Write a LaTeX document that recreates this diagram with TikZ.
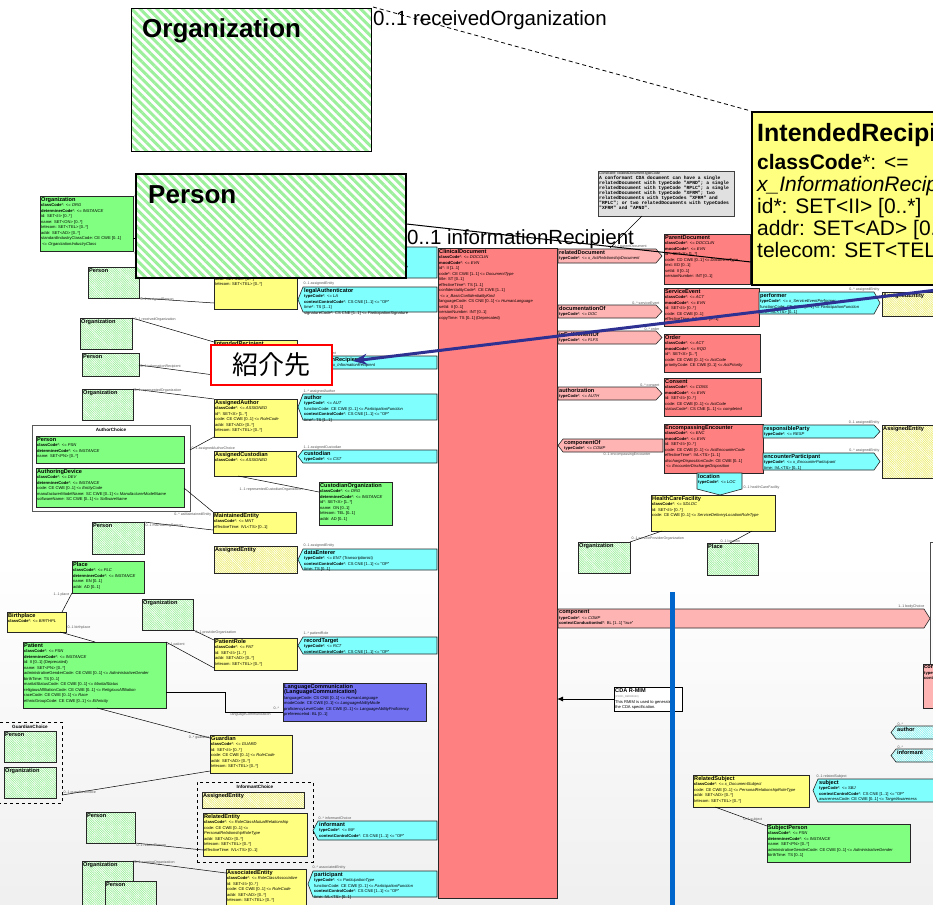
\documentclass[tikz,border=0pt]{standalone}
\usepackage{fontspec}
\setmainfont{Liberation Sans}
\newfontfamily\cjk{Noto Sans CJK JP}
\newfontfamily\monof{Liberation Mono}
\usetikzlibrary{patterns.meta,arrows.meta,calc}
\definecolor{actred}{HTML}{FF8080}
\definecolor{relp}{HTML}{FFB4B4}
\definecolor{partc}{HTML}{80FFFF}
\definecolor{roley}{HTML}{FFFF80}
\definecolor{entg}{HTML}{80FF80}
\definecolor{hgreen}{HTML}{9CF09C}
\definecolor{hyel}{HTML}{EEEE70}
\definecolor{hcyan}{HTML}{80F0F0}
\definecolor{langb}{HTML}{7070F0}
\definecolor{noteg}{HTML}{E0E0E0}
\definecolor{bigblue}{HTML}{2E3192}
\definecolor{vblue}{HTML}{0066CC}
\definecolor{lblg}{HTML}{555555}
\newcommand\Kb[1]{\textbf{#1}}
\newcommand\Ki[1]{\textit{#1}}
\newcommand\Kt[1]{{\fontsize{5.6}{6}\selectfont\textbf{#1}}}
\newcommand\ebox[7]{%
 \pgfmathsetmacro\Kw{#4-#2}\pgfmathsetmacro\Kh{#5-#3}%
 \node[#6, minimum width=\Kw pt, minimum height=\Kh pt, anchor=north west, inner sep=0pt, outer sep=0pt] (#1) at (#2,#3) {};%
 \node[t] (#1t) at (#1.north west) {#7};}
\newcommand\lpart[7]{%
 \pgfmathsetmacro\Km{(#3+#5)/2}\pgfmathsetmacro\Ka{#2+5}%
 \draw[#6] (\Ka,#3) -- (#4,#3) -- (#4,#5) -- (\Ka,#5) -- (#2,\Km) -- cycle;%
 \coordinate (#1) at (#2,\Km);%
 \node[t] (#1t) at (\Ka,#3) {#7};}
\newcommand\rpart[7]{%
 \pgfmathsetmacro\Km{(#3+#5)/2}\pgfmathsetmacro\Ka{#4-6}%
 \draw[#6] (#2,#3) -- (\Ka,#3) -- (#4,\Km) -- (\Ka,#5) -- (#2,#5) -- cycle;%
 \coordinate (#1) at (#4,\Km);%
 \node[t] (#1t) at (#2,#3) {#7};}
\tikzset{
 t/.style={font=\fontsize{4.1}{5.5}\selectfont, align=left, inner sep=1pt, anchor=north west},
 lab/.style={font=\fontsize{3.6}{4.3}\selectfont, text=lblg, inner sep=0.5pt},
 bx/.style={draw=black!85, line width=0.6pt},
 act/.style={bx, fill=actred},
 rel/.style={bx, fill=relp},
 part/.style={bx, fill=partc},
 role/.style={bx, fill=roley},
 ent/.style={bx, fill=entg},
 lang/.style={bx, fill=langb},
 notebox/.style={draw=black!75, line width=0.6pt, fill=noteg},
 wnote/.style={draw=black, line width=0.6pt, fill=white},
 choice/.style={draw=black!65, line width=1pt, fill=white},
 dchoice/.style={draw=black, line width=0.6pt, dashed},
 hent/.style={bx, preaction={fill=white}, pattern={Lines[angle=-45,distance=1.6pt,line width=0.7pt]}, pattern color=hgreen},
 hrole/.style={bx, preaction={fill=white}, pattern={Lines[angle=-45,distance=1.6pt,line width=0.7pt]}, pattern color=hyel},
 hpart/.style={bx, preaction={fill=white}, pattern={Lines[angle=-45,distance=1.6pt,line width=0.7pt]}, pattern color=hcyan},
 bigh/.style={draw=black, line width=1.5pt, preaction={fill=white}, pattern={Lines[angle=-45,distance=6pt,line width=3pt]}, pattern color=hgreen},
 conn/.style={draw=black, line width=0.5pt},
 ctitle/.style={font=\fontsize{4.6}{5}\selectfont\bfseries, inner sep=0.5pt, anchor=north},
}
\begin{document}
\begin{tikzpicture}[x=1pt,y=-1pt]
\useasboundingbox (0,0) rectangle (933,904);
\clip (0,0) rectangle (933,904);
\fill[white] (0,0) rectangle (933,904);
\shade[top color=white, bottom color=black!6] (0,560) rectangle (933,904);

% ---------- central act ----------
\ebox{cd}{438}{248}{557}{898}{act}{\Kt{ClinicalDocument}\\ \Kb{classCode}*: <= \Ki{DOCCLIN}\\ \Kb{moodCode}*: <= \Ki{EVN}\\ id*: II [1..1]\\ code*: CE CWE [1..1] <= \Ki{DocumentType}\\ title: ST [0..1]\\ effectiveTime*: TS [1..1]\\ confidentialityCode*: CE CWE [1..1]\\ \ <= \Ki{x\_BasicConfidentialityKind}\\ languageCode: CS CNE [0..1] <= \Ki{HumanLanguage}\\ setId: II [0..1]\\ versionNumber: INT [0..1]\\ copyTime: TS [0..1] (Deprecated)}

% ---------- left participations ----------
\lpart{authn}{298}{247}{437}{278}{part}{\Kt{authenticator}\\ \Kb{typeCode}*: <= \Ki{AUTHEN}\\ time*: TS [1..1]\\ signatureCode*: CS CNE [1..1] <= \Ki{ParticipationSignature}}
\lpart{legal}{298}{287}{437}{312}{part}{\Kt{legalAuthenticator}\\ \Kb{typeCode}*: <= \Ki{LA}\\ \Kb{contextControlCode}*: CS CNE [1..1] <= "OP"\\ time*: TS [1..1]\\ signatureCode*: CS CNE [1..1] <= \Ki{ParticipationSignature}}
\lpart{infr}{298}{356}{437}{369}{part}{\Kt{informationRecipient}\\ \Kb{typeCode}*: <= \Ki{x\_InformationRecipient}}
\lpart{auth}{298}{394}{437}{420}{part}{\Kt{author}\\ \Kb{typeCode}*: <= \Ki{AUT}\\ functionCode: CE CWE [0..1] <= \Ki{ParticipationFunction}\\ \Kb{contextControlCode}*: CS CNE [1..1] <= "OP"\\ time*: TS [1..1]}
\lpart{cust}{298}{450}{437}{463}{part}{\Kt{custodian}\\ \Kb{typeCode}*: <= \Ki{CST}}
\lpart{dent}{298}{549}{437}{570}{part}{\Kt{dataEnterer}\\ \Kb{typeCode}*: <= \Ki{ENT} (Transcriptionist)\\ \Kb{contextControlCode}*: CS CNE [1..1] <= "OP"\\ time: TS [0..1]}
\lpart{rect}{298}{637}{437}{654}{part}{\Kt{recordTarget}\\ \Kb{typeCode}*: <= \Ki{RCT}\\ \Kb{contextControlCode}*: CS CNE [1..1] <= "OP"}
\lpart{inf}{313}{821}{437}{840}{part}{\Kt{informant}\\ \Kb{typeCode}*: <= \Ki{INF}\\ \Kb{contextControlCode}*: CS CNE [1..1] <= "OP"}
\lpart{ptcp}{308}{871}{437}{897}{part}{\Kt{participant}\\ \Kb{typeCode}*: <= \Ki{ParticipationType}\\ functionCode: CE CWE [0..1] <= \Ki{ParticipationFunction}\\ \Kb{contextControlCode}*: CS CNE [1..1] <= "OP"\\ time: IVL<TS> [0..1]}

% ---------- right act relationships ----------
\rpart{rdoc}{558}{249}{662}{263}{rel}{\Kt{relatedDocument}\\ \Kb{typeCode}*: <= \Ki{x\_ActRelationshipDocument}}
\rpart{docof}{558}{305}{662}{318}{rel}{\Kt{documentationOf}\\ \Kb{typeCode}*: <= \Ki{DOC}}
\rpart{inful}{558}{331}{662}{344}{rel}{\Kt{inFulfillmentOf}\\ \Kb{typeCode}*: <= \Ki{FLFS}}
\rpart{authz}{558}{387}{662}{400}{rel}{\Kt{authorization}\\ \Kb{typeCode}*: <= \Ki{AUTH}}
\lpart{compof}{558}{439}{663}{452}{rel}{\Kt{componentOf}\\ \Kb{typeCode}*: <= \Ki{COMP}}
\rpart{comp}{558}{609}{930}{628}{rel}{\Kt{component}\\ \Kb{typeCode}*: <= \Ki{COMP}\\ \Kb{contextConductionInd}*: BL [1..1] "true"}

% ---------- right acts ----------
\ebox{pdoc}{664}{234}{750}{284}{act}{\Kt{ParentDocument}\\ \Kb{classCode}*: <= \Ki{DOCCLIN}\\ \Kb{moodCode}*: <= \Ki{EVN}\\ id*: SET<II> [1..*]\\ code: CD CWE [0..1] <= \Ki{DocumentType}\\ text: ED [0..1]\\ setId: II [0..1]\\ versionNumber: INT [0..1]}
\ebox{sev}{664}{288}{759}{326}{act}{\Kt{ServiceEvent}\\ \Kb{classCode}*: <= \Ki{ACT}\\ \Kb{moodCode}*: <= \Ki{EVN}\\ id: SET<II> [0..*]\\ code: CE CWE [0..1]\\ effectiveTime: IVL<TS> [0..1]}
\ebox{ord}{664}{334}{760}{372}{act}{\Kt{Order}\\ \Kb{classCode}*: <= \Ki{ACT}\\ \Kb{moodCode}*: <= \Ki{RQO}\\ id*: SET<II> [1..*]\\ code: CE CWE [0..1] <= \Ki{ActCode}\\ priorityCode: CE CWE [0..1] <= \Ki{ActPriority}}
\ebox{cons}{664}{378}{761}{416}{act}{\Kt{Consent}\\ \Kb{classCode}*: <= \Ki{CONS}\\ \Kb{moodCode}*: <= \Ki{EVN}\\ id: SET<II> [0..*]\\ code: CE CWE [0..1] <= \Ki{ActCode}\\ statusCode*: CS CNE [1..1] <= \Ki{completed}}
\ebox{enc}{664}{424}{763}{473}{act}{\Kt{EncompassingEncounter}\\ \Kb{classCode}*: <= \Ki{ENC}\\ \Kb{moodCode}*: <= \Ki{EVN}\\ id: SET<II> [0..*]\\ code: CE CWE [0..1] <= \Ki{ActEncounterCode}\\ effectiveTime*: IVL<TS> [1..1]\\ \Ki{dischargeDispositionCode}: CE CWE [0..1]\\ \ <= \Ki{EncounterDischargeDisposition}}
\draw[part] (697,473) -- (742,473) -- (742,489) -- (720,495) -- (697,489) -- cycle;
\coordinate (loc) at (720,495);
\node[t] (loct) at (697,473) {\Kt{location}\\ \Kb{typeCode}*: <= \Ki{LOC}};
\ebox{hcf}{651}{495}{775}{531}{role}{\Kt{HealthCareFacility}\\ \Kb{classCode}*: <= \Ki{SDLOC}\\ id: SET<II> [0..*]\\ code: CE CWE [0..1] <= \Ki{ServiceDeliveryLocationRoleType}}
\rpart{perf}{759}{292}{880}{314}{part}{\Kt{performer}\\ \Kb{typeCode}*: <= \Ki{x\_ServiceEventPerformer}\\ functionCode: CE CWE [0..1] <= \Ki{ParticipationFunction}\\ time: IVL<TS> [0..1]}
\ebox{aeR1}{882}{292}{945}{316}{hrole}{\Kt{AssignedEntity}}
\rpart{resp}{763}{425}{880}{438}{part}{\Kt{responsibleParty}\\ \Kb{typeCode}*: <= \Ki{RESP}}
\rpart{encp}{763}{453}{880}{470}{part}{\Kt{encounterParticipant}\\ \Kb{typeCode}*: <= \Ki{x\_EncounterParticipant}\\ time: IVL<TS> [0..1]}
\ebox{aeR2}{882}{425}{945}{478}{hrole}{\Kt{AssignedEntity}}
\ebox{orgH}{578}{542}{630}{573}{hent}{\Kt{Organization}}
\ebox{plcH}{707}{543}{758}{575}{hent}{\Kt{Place}}

% body choice (partly outside)
\draw[draw=black!70, line width=0.8pt] (945,542) -- (930,542) -- (930,664);
\ebox{compR}{923}{664}{950}{708}{rel}{\Kt{component}\\ \Kb{typeCode}*\\ \Kb{contextConductionInd}*}
\lpart{authR}{891}{726}{945}{739}{hpart}{\Kt{author}}
\lpart{infR}{891}{749}{945}{762}{hpart}{\Kt{informant}}
\lpart{subj}{813}{779}{945}{802}{part}{\Kt{subject}\\ \Kb{typeCode}*: <= \Ki{SBJ}\\ \Kb{contextControlCode}*: CS CNE [1..1] <= "OP"\\ awarenessCode: CE CWE [0..1] <= \Ki{TargetAwareness}}
\ebox{rsub}{693}{775}{809}{807}{role}{\Kt{RelatedSubject}\\ \Kb{classCode}*: <= \Ki{x\_DocumentSubject}\\ code: CE CWE [0..1] <= \Ki{PersonalRelationshipRoleType}\\ addr: SET<AD> [0..*]\\ telecom: SET<TEL> [0..*]}
\ebox{sper}{767}{824}{910}{862}{ent}{\Kt{SubjectPerson}\\ \Kb{classCode}*: <= \Ki{PSN}\\ \Kb{determinerCode}*: <= \Ki{INSTANCE}\\ name: SET<PN> [0..*]\\ administrativeGenderCode: CE CWE [0..1] <= \Ki{AdministrativeGender}\\ birthTime: TS [0..1]}

% notes
\ebox{cnote}{598}{171}{734}{216}{notebox}{}
\node[anchor=north west, inner sep=1pt, align=left, font=\monof\bfseries\fontsize{4.7}{5.0}\selectfont] (cnotet) at (cnote.north west) {{\rmfamily\mdseries\itshape\fontsize{3.5}{4}\selectfont Constraint: relatedDocument.typeCode}\\ A conformant CDA document can have a single\\ relatedDocument with typeCode "APND"; a single\\ relatedDocument with typeCode "RPLC"; a single\\ relatedDocument with typeCode "XFRM"; two\\ relatedDocuments with typeCodes "XFRM" and\\ "RPLC"; or two relatedDocuments with typeCodes\\ "XFRM" and "APND".};
\ebox{rnote}{614}{687}{682}{711}{wnote}{\Kt{CDA R-MIM}\\ {\fontsize{2.6}{3}\selectfont\color{gray}(POCD\_RM000040)}\\ This RMIM is used to generate\\ the CDA specification.}
\draw[line width=0.9pt, -{Latex[length=6pt,width=5pt]}] (rnote.west) -- (cd.east |- rnote.west);
\coordinate (cnend) at (610,248);
\draw[conn] (cnote.south -| 642,0) -- (cnend);

% ---------- left roles ----------
\ebox{ae1}{214}{253}{297}{309}{role}{\Kt{AssignedEntity}\\ \Kb{classCode}*: <= \Ki{ASSIGNED}\\ id*: SET<II> [1..*]\\ code: CE CWE [0..1] <= \Ki{RoleCode}\\ addr: SET<AD> [0..*]\\ telecom: SET<TEL> [0..*]}
\ebox{irs}{214}{340}{297}{384}{role}{\Kt{IntendedRecipient}\\ \Kb{classCode}*: <= \Ki{x\_InformationRecipientRole}}
\ebox{aa}{214}{399}{297}{437}{role}{\Kt{AssignedAuthor}\\ \Kb{classCode}*: <= \Ki{ASSIGNED}\\ id*: SET<II> [1..*]\\ code: CE CWE [0..1] <= \Ki{RoleCode}\\ addr: SET<AD> [0..*]\\ telecom: SET<TEL> [0..*]}
\ebox{ac}{214}{451}{296}{476}{role}{\Kt{AssignedCustodian}\\ \Kb{classCode}*: <= \Ki{ASSIGNED}}
\ebox{me}{213}{512}{296}{533}{role}{\Kt{MaintainedEntity}\\ \Kb{classCode}*: <= \Ki{MNT}\\ effectiveTime: IVL<TS> [0..1]}
\ebox{aeh}{214}{546}{297}{573}{hrole}{\Kt{AssignedEntity}}
\ebox{pr}{214}{638}{297}{670}{role}{\Kt{PatientRole}\\ \Kb{classCode}*: <= \Ki{PAT}\\ id: SET<II> [1..*]\\ addr: SET<AD> [0..*]\\ telecom: SET<TEL> [0..*]}
\ebox{gd}{210}{735}{292}{773}{role}{\Kt{Guardian}\\ \Kb{classCode}*: <= \Ki{GUARD}\\ id: SET<II> [0..*]\\ code: CE CWE [0..1] <= \Ki{RoleCode}\\ addr: SET<AD> [0..*]\\ telecom: SET<TEL> [0..*]}
\ebox{ich}{197}{782}{313}{862}{dchoice}{}
\node[ctitle] (icht) at ($(ich.north)+(0,2.5)$) {InformantChoice};
\ebox{aei}{202}{792}{304}{808}{hrole}{\Kt{AssignedEntity}}
\ebox{ren}{203}{813}{307}{856}{role}{\Kt{RelatedEntity}\\ \Kb{classCode}*: <= \Ki{RoleClassMutualRelationship}\\ code: CE CWE [0..1] <=\\ \Ki{PersonalRelationshipRoleType}\\ addr: SET<AD> [0..*]\\ telecom: SET<TEL> [0..*]\\ effectiveTime: IVL<TS> [0..1]}
\ebox{asen}{226}{869}{306}{915}{role}{\Kt{AssociatedEntity}\\ \Kb{classCode}*: <= \Ki{RoleClassAssociative}\\ id: SET<II> [0..*]\\ code: CE CWE [0..1] <= \Ki{RoleCode}\\ addr: SET<AD> [0..*]\\ telecom: SET<TEL> [0..*]}
\ebox{bp}{7}{612}{66}{632}{role}{\Kt{Birthplace}\\ \Kb{classCode}*: <= \Ki{BIRTHPL}}

% ---------- entities ----------
\ebox{orgTL}{40}{196}{133}{251}{ent}{\Kt{Organization}\\ \Kb{classCode}*: <= \Ki{ORG}\\ \Kb{determinerCode}*: <= \Ki{INSTANCE}\\ id: SET<II> [0..*]\\ name: SET<ON> [0..*]\\ telecom: SET<TEL> [0..*]\\ addr: SET<AD> [0..*]\\ standardIndustryClassCode: CE CWE [0..1]\\ \ <= \Ki{OrganizationIndustryClass}}
\ebox{p1}{88}{267}{139}{298}{hent}{\Kt{Person}}
\ebox{o2}{80}{318}{132}{349}{hent}{\Kt{Organization}}
\ebox{p3}{82}{353}{139}{376}{hent}{\Kt{Person}}
\ebox{o4}{82}{389}{133}{420}{hent}{\Kt{Organization}}
\ebox{ach}{32}{425}{190}{511}{choice}{}
\node[ctitle] (acht) at ($(ach.north)+(0,2.5)$) {AuthorChoice};
\ebox{pch}{36}{436}{184}{463}{ent}{\Kt{Person}\\ \Kb{classCode}*: <= \Ki{PSN}\\ \Kb{determinerCode}*: <= \Ki{INSTANCE}\\ name: SET<PN> [0..*]}
\ebox{adev}{36}{468}{184}{507}{ent}{\Kt{AuthoringDevice}\\ \Kb{classCode}*: <= \Ki{DEV}\\ \Kb{determinerCode}*: <= \Ki{INSTANCE}\\ code: CE CWE [0..1] <= \Ki{EntityCode}\\ manufacturerModelName: SC CWE [0..1] <= \Ki{ManufacturerModelName}\\ softwareName: SC CWE [0..1] <= \Ki{SoftwareName}}
\ebox{p5}{92}{522}{144}{554}{hent}{\Kt{Person}}
\ebox{corg}{319}{482}{392}{525}{ent}{\Kt{CustodianOrganization}\\ \Kb{classCode}*: <= \Ki{ORG}\\ \Kb{determinerCode}*: <= \Ki{INSTANCE}\\ id*: SET<II> [1..*]\\ name: ON [0..1]\\ telecom: TEL [0..1]\\ addr: AD [0..1]}
\ebox{plc}{72}{561}{144}{593}{ent}{\Kt{Place}\\ \Kb{classCode}*: <= \Ki{PLC}\\ \Kb{determinerCode}*: <= \Ki{INSTANCE}\\ name: EN [0..1]\\ addr: AD [0..1]}
\ebox{o6}{142}{599}{193}{630}{hent}{\Kt{Organization}}
\ebox{pat}{23}{642}{166}{708}{ent}{\Kt{Patient}\\ \Kb{classCode}*: <= \Ki{PSN}\\ \Kb{determinerCode}*: <= \Ki{INSTANCE}\\ id: II [0..1] (Deprecated)\\ name: SET<PN> [0..*]\\ administrativeGenderCode: CE CWE [0..1] <= \Ki{AdministrativeGender}\\ birthTime: TS [0..1]\\ maritalStatusCode: CE CWE [0..1] <= \Ki{MaritalStatus}\\ religiousAffiliationCode: CE CWE [0..1] <= \Ki{ReligiousAffiliation}\\ raceCode: CE CWE [0..1] <= \Ki{Race}\\ ethnicGroupCode: CE CWE [0..1] <= \Ki{Ethnicity}}
\ebox{lc}{283}{683}{426}{721}{lang}{\Kt{LanguageCommunication}\\ \Kt{(LanguageCommunication)}\\ languageCode: CS CNE [0..1] <= \Ki{HumanLanguage}\\ modeCode: CE CWE [0..1] <= \Ki{LanguageAbilityMode}\\ proficiencyLevelCode: CE CWE [0..1] <= \Ki{LanguageAbilityProficiency}\\ preferenceInd: BL [0..1]}
\ebox{gch}{-2}{722}{62}{803}{dchoice}{}
\node[ctitle] (gcht) at ($(gch.north)+(0,2.5)$) {GuardianChoice};
\ebox{pg}{4}{731}{56}{762}{hent}{\Kt{Person}}
\ebox{og}{4}{767}{56}{798}{hent}{\Kt{Organization}}
\ebox{p7}{86}{812}{135}{843}{hent}{\Kt{Person}}
\ebox{o8}{82}{861}{133}{915}{hent}{\Kt{Organization}}
\ebox{p9}{105}{881}{156}{915}{hent}{\Kt{Person}}

% ---------- connectors ----------
\draw[conn] (orgTL.east |- 0,238) -- (150,238);
\draw[conn] (p1.south east) -- (ae1.west |- 0,303);
\draw[conn] (o2.north east) -- (irs.west |- 0,342);
\draw[conn] (p3.east |- 0,365) -- (irs.west |- 0,375);
\draw[conn] (o4.north east) -- (aa.north west);
\draw[conn] (ach.east |- 0,450) -- (aa.south west);
\draw[conn] (adev.east |- 0,488) -- (me.north west);
\draw[conn] (p5.north east) -- (me.west |- 0,530);
\draw[conn] (ac.south -| 238,0) -- (corg.west |- 0,492);
\draw[conn] (plc.south west) -- (bp.north -| 62,0);
\draw[conn] (bp.south -| 60,0) -- (pat.north -| 95,0);
\draw[conn] (pat.north east) -- (pr.west |- 0,668);
\draw[conn] (o6.south east) -- (pr.west |- 0,640);
\draw[conn] (pat.east |- 0,692) -- (225,692) -- (225,712) -- (lc.west |- 0,712);
\draw[conn] (pat.south -| 97,0) -- (gd.west |- 0,738);
\draw[conn] (gch.east |- 0,795) -- (gd.west |- 0,771);
\draw[conn] (p7.south east) -- (ren.west |- 0,850);
\draw[conn] (o8.north east) -- (asen.west |- 0,873);
\draw[conn] (hcf.south -| 662,0) -- (orgH.north east);
\draw[conn] (hcf.south -| 752,0) -- (plcH.north -| 730,0);
\draw[conn] (rsub.south -| 715,0) -- (sper.west |- 0,826);

% ---------- multiplicity labels ----------
\node[lab, anchor=south west] (m0a) at (134,198) {0..1};
\node[lab, anchor=north west] (m0b) at (134,251) {0..1};
\node[lab, anchor=west] (m1) at (140,300) {0..1 assignedPerson};
\node[lab, anchor=west] (m2) at (134,320) {0..1 receivedOrganization};
\node[lab, anchor=west] (m3) at (140,367) {0..1 informationRecipient};
\node[lab, anchor=west] (m4) at (134,391) {0..1 representedOrganization};
\node[lab, anchor=west] (m5) at (191,449) {0..1 assignedAuthorChoice};
\node[lab, anchor=east] (m6) at (212,515) {0..* asMaintainedEntity};
\node[lab, anchor=west] (m7) at (145,526) {0..1 maintainingPerson};
\node[lab, anchor=west] (m8) at (239,490) {1..1 representedCustodianOrganization};
\node[lab, anchor=east] (m9) at (70,595) {1..1 place};
\node[lab, anchor=west] (m10) at (67,628) {0..1 birthplace};
\node[lab, anchor=west] (m11) at (166,645) {0..1 patient};
\node[lab, anchor=west] (m12) at (195,633) {0..1 providerOrganization};
\node[lab, anchor=west] (m13) at (230,715) {languageCommunication};
\node[lab, anchor=west] (m13b) at (273,708) {0..*};
\node[lab, anchor=east] (m14) at (210,738) {0..* guardian};
\node[lab, anchor=west] (m15) at (63,793) {0..1 guardianChoice};
\node[lab, anchor=west] (m16) at (136,845) {0..1 relatedPerson};
\node[lab, anchor=west] (m17) at (134,863) {0..1 scopingOrganization};
\node[lab, anchor=south west] (q1) at (303,286) {0..1 assignedEntity};
\node[lab, anchor=south west] (q2) at (300,356) {0..* intendedRecipient};
\node[lab, anchor=south west] (q3) at (303,394) {1..* assignedAuthor};
\node[lab, anchor=south west] (q4) at (303,450) {1..1 assignedCustodian};
\node[lab, anchor=south west] (q5) at (303,548) {0..1 assignedEntity};
\node[lab, anchor=south west] (q6) at (303,636) {1..* patientRole};
\node[lab, anchor=south west] (q7) at (318,820) {0..* informantChoice};
\node[lab, anchor=south west] (q8) at (312,870) {0..* associatedEntity};
\node[lab, anchor=south west] (r1) at (613,249) {0..* parentDocument};
\node[lab, anchor=south east] (r2) at (660,305) {0..* serviceEvent};
\node[lab, anchor=south east] (r3) at (660,331) {0..* order};
\node[lab, anchor=south east] (r4) at (660,387) {0..* consent};
\node[lab, anchor=north west] (r5) at (603,452) {0..1 encompassingEncounter};
\node[lab, anchor=west] (r6) at (743,488) {0..1 healthCareFacility};
\node[lab, anchor=west] (r7) at (631,539) {0..1 serviceProviderOrganization};
\node[lab, anchor=west] (r8) at (720,541) {0..1 location};
\node[lab, anchor=south east] (r9) at (880,292) {0..* assignedEntity};
\node[lab, anchor=south east] (r10) at (880,425) {0..1 assignedEntity};
\node[lab, anchor=south east] (r11) at (880,453) {0..* assignedEntity};
\node[lab, anchor=south east] (r12) at (925,609) {1..1 bodyChoice};
\node[lab, anchor=south west] (r13) at (897,726) {0..*};
\node[lab, anchor=south west] (r14) at (897,749) {0..*};
\node[lab, anchor=south west] (r15) at (816,779) {0..1 relatedSubject};
\node[lab, anchor=west] (r16) at (743,820) {0..1 subject};

% ---------- enlarged overlay ----------
\node[bigh, minimum width=240pt, minimum height=143pt, anchor=north west, inner sep=0pt] (orgBig) at (130,7) {};
\node[anchor=north west, inner sep=0pt, font=\fontsize{26}{28}\selectfont\bfseries] (orgBigT) at (142,18) {Organization};
\node[anchor=base west, inner sep=0pt, font=\fontsize{20.5}{22}\selectfont] (recvL) at (373,26) {0..1 receivedOrganization};
\node[bigh, minimum width=270pt, minimum height=104pt, anchor=north west, inner sep=0pt] (perBig) at (135,173) {};
\node[anchor=north west, inner sep=0pt, font=\fontsize{26}{28}\selectfont\bfseries] (perBigT) at (148,185) {Person};
\node[anchor=base west, inner sep=0pt, font=\fontsize{20.5}{22}\selectfont] (infL) at (407,244) {0..1 informationRecipient};
\node[draw=black, line width=1.6pt, fill=roley, minimum width=205pt, minimum height=173pt, anchor=north west, inner sep=0pt] (irBig) at (751,111) {};
\node[anchor=north west, inner sep=0pt, font=\fontsize{25}{27}\selectfont\bfseries] (irBigT) at (757,123) {IntendedRecipient};
\node[anchor=north west, inner sep=0pt, align=left, font=\fontsize{21}{22}\selectfont] (irBigA) at (757,154) {\textbf{classCode}*: <=\\ \textit{x\_InformationRecipient}\\ id*: SET<II> [0..*]\\ addr: SET<AD> [0..*]\\ telecom: SET<TEL> [0..*]};
\draw[line width=0.8pt, dash pattern=on 4pt off 3pt] (orgBig.north east) -- (irBig.north west);
\draw[line width=1pt] (perBig.east |- 0,224) -- (irBig.west |- 0,262);

\node[draw=red, line width=1.8pt, fill=white, minimum width=121pt, minimum height=40pt, anchor=north west, inner sep=0pt, font=\cjk\fontsize{26}{28}\selectfont] (jp) at (210,344) {紹介先};
\coordinate (bstart) at (945,289);
\coordinate (btip) at (353,361);
\draw[bigblue, line width=3pt, -{Stealth[length=14pt,width=11pt]}] (bstart) -- (btip);
\coordinate (vtop) at (672,592);
\coordinate (vbot) at (672,910);
\draw[vblue, line width=5pt] (vtop) -- (vbot);
\end{tikzpicture}
\end{document}
